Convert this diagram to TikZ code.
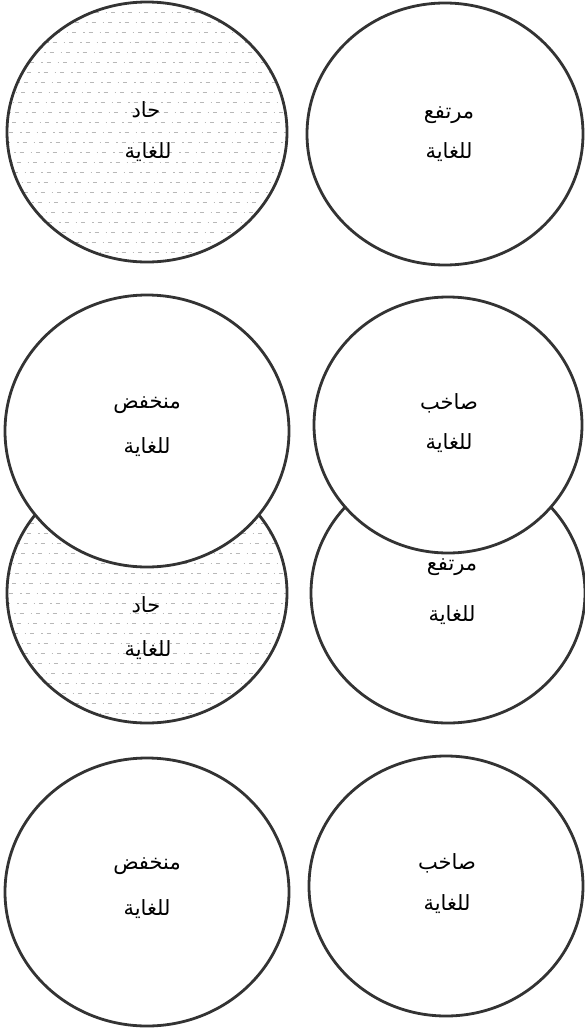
\documentclass[tikz,border=0pt]{standalone}
\usepackage{fontspec}
\newfontfamily\arabicfont[Script=Arabic]{DejaVu Sans}
\TeXXeTstate=1
\usetikzlibrary{shapes.geometric}
\tikzset{
  ring/.style={ellipse, draw=black!80, line width=2.8pt, fill=white, inner sep=0pt},
  hatched/.style={path picture={
      \foreach \k in {-15,...,15}{
        \draw[black!28, line width=0.4pt, dash pattern=on 1.5pt off 4pt on 4pt off 7pt]
          ([xshift=-160pt+\k*3pt,yshift=\k*10pt]path picture bounding box.center) -- ++(320pt,0);
      }}},
  lbl/.style={font=\arabicfont\fontsize{21}{23}\selectfont, inner sep=1pt}
}
\begin{document}
\begin{tikzpicture}[x=1pt,y=-1pt]
\useasboundingbox (0,0) rectangle (584,1036);
% row 1
\node[ring, hatched, minimum width=280pt, minimum height=260pt] (c1) at (147,132) {};
\node[ring, minimum width=276pt, minimum height=262pt] (c2) at (445,134) {};
% row 3 (drawn before row 2, which overlaps it)
\node[ring, hatched, minimum width=280pt, minimum height=260pt] (c5) at (147,593) {};
\node[ring, minimum width=274pt, minimum height=260pt] (c6) at (448,593) {};
% row 2
\node[ring, minimum width=284pt, minimum height=272pt] (c3) at (147,431) {};
\node[ring, minimum width=268pt, minimum height=256pt] (c4) at (448,425) {};
% row 4
\node[ring, minimum width=284pt, minimum height=268pt] (c7) at (147,892) {};
\node[ring, minimum width=274pt, minimum height=260pt] (c8) at (446,886) {};
% labels
\node[lbl] (t1a) at (146,110) {\beginR حاد\endR};
\node[lbl] (t1b) at (148,152) {\beginR للغاية\endR};
\node[lbl] (t2a) at (449,115) {\beginR مرتفع\endR};
\node[lbl] (t2b) at (449,152) {\beginR للغاية\endR};
\node[lbl] (t3a) at (147,405) {\beginR منخفض\endR};
\node[lbl] (t3b) at (147,447) {\beginR للغاية\endR};
\node[lbl] (t4a) at (449,403) {\beginR صاخب\endR};
\node[lbl] (t4b) at (449,443) {\beginR للغاية\endR};
\node[lbl] (t5a) at (146,605) {\beginR حاد\endR};
\node[lbl] (t5b) at (148,650) {\beginR للغاية\endR};
\node[lbl] (t6a) at (452,567) {\beginR مرتفع\endR};
\node[lbl] (t6b) at (452,615) {\beginR للغاية\endR};
\node[lbl] (t7a) at (147,866) {\beginR منخفض\endR};
\node[lbl] (t7b) at (147,909) {\beginR للغاية\endR};
\node[lbl] (t8a) at (447,863) {\beginR صاخب\endR};
\node[lbl] (t8b) at (447,904) {\beginR للغاية\endR};
\end{tikzpicture}
\end{document}
